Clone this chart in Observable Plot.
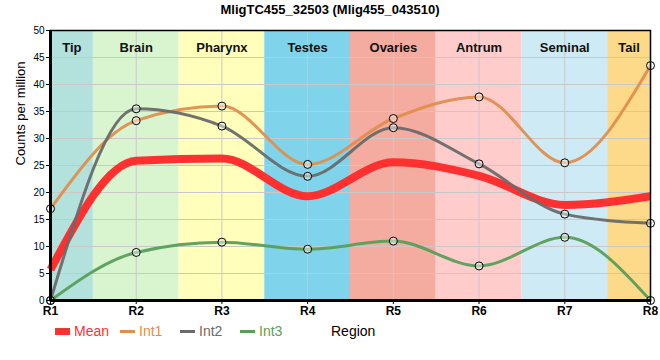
<!DOCTYPE html>
<html><head><meta charset="utf-8">
<script src="https://cdn.jsdelivr.net/npm/d3@7"></script>
<script src="https://cdn.jsdelivr.net/npm/@observablehq/plot@0.6"></script>
<style>
body{margin:0;background:#fff;font-family:"Liberation Sans",Arial,sans-serif;}
#wrap{width:660px;}
#title{height:20px;text-align:center;font-weight:bold;font-size:13px;line-height:19px;color:#000;}
#legend{position:relative;height:22px;font-size:14px;}
#legend .item{position:absolute;top:3px;display:flex;align-items:center;}
#legend .sw{display:inline-block;width:15px;margin-right:4px;}
</style></head><body>
<div id="wrap"><div id="title">MligTC455_32503 (Mlig455_043510)</div><div id="chart"></div><div id="legend"></div></div>
<script>
const regions = ["R1","R2","R3","R4","R5","R6","R7","R8"];
const regionPos = [1,2,3,4,5,6,7,8];
const meanVals = [5.7, 25.9, 26.3, 19.3, 25.6, 23.1, 17.7, 19.3];
const int1Vals = [17.0, 33.3, 36.0, 25.2, 33.7, 37.7, 25.5, 43.5];
const int2Vals = [0.0, 35.5, 32.3, 23.0, 32.0, 25.3, 16.0, 14.3];
const int3Vals = [0.0, 8.9, 10.8, 9.5, 11.0, 6.4, 11.7, 0.0];
const seriesNames = ["Mean","Int1","Int2","Int3"];
const seriesColors = ["#ff3030","#e08e4e","#6a6a6a","#5a9e5a"];
const bandNames = ["Tip","Brain","Pharynx","Testes","Ovaries","Antrum","Seminal","Tail"];
const bandStart = [1,1.5,2.5,3.5,4.5,5.5,6.5,7.5];
const bandEnd = [1.5,2.5,3.5,4.5,5.5,6.5,7.5,8];
const bandColors = ["#b3e2dd","#d9f5d0","#ffffbb","#7fd4ec","#f5aca0","#ffcccc","#ceeaf5","#fdd98a"];
const yTicks = [0,5,10,15,20,25,30,35,40,45,50];

const bands = bandNames.map((n,i)=>({name:n, x1:bandStart[i], x2:bandEnd[i], color:bandColors[i]}));
const allVals = [meanVals,int1Vals,int2Vals,int3Vals];
const rows = [];
seriesNames.forEach((s,si)=>allVals[si].forEach((v,i)=>rows.push({series:s, x:regionPos[i], y:v})));
const intRows = rows.filter(d=>d.series!=="Mean");
const color = s=>seriesColors[seriesNames.indexOf(s)];

const plot = Plot.plot({
  width:660, height:300,
  marginLeft:50, marginRight:10, marginTop:10, marginBottom:20,
  style:{fontFamily:'"Liberation Sans",Arial,sans-serif', background:"transparent"},
  x:{domain:[1,8], label:null},
  y:{domain:[0,50], label:null},
  marks:[
    Plot.rectY(bands,{x1:"x1",x2:"x2",y1:0,y2:50,fill:"color"}),
    Plot.gridX(regionPos,{stroke:"#c8c8c8",strokeOpacity:1,strokeWidth:1}),
    Plot.gridY(yTicks,{stroke:"#c8c8c8",strokeOpacity:1,strokeWidth:1}),
    Plot.text(bands,{x:d=>(d.x1+d.x2)/2, frameAnchor:"top", dy:12, text:"name", fontWeight:"bold", fontSize:13, fill:"#111"}),
    Plot.line(rows.filter(d=>d.series==="Mean"),{x:"x",y:"y",stroke:seriesColors[0],strokeWidth:8,curve:"monotone-x",strokeLinecap:"butt"}),
    ...seriesNames.slice(1).map((s,i)=>Plot.line(rows.filter(d=>d.series===s),{x:"x",y:"y",stroke:seriesColors[i+1],strokeWidth:3,curve:"monotone-x",strokeOpacity:0.95})),
    Plot.dot(intRows,{x:"x",y:"y",r:4,stroke:"#000",strokeWidth:1,fill:"#fff",fillOpacity:0.45}),
    Plot.frame({stroke:"#000",strokeWidth:1.5}),
    Plot.ruleX([1],{stroke:"#000",strokeWidth:3}),
    Plot.ruleY([0],{stroke:"#000",strokeWidth:3}),
    Plot.axisY({ticks:yTicks, tickSize:4, tickPadding:2, fontSize:10, label:null, stroke:"#000"}),
    Plot.axisX({ticks:regionPos, tickFormat:d=>regions[d-1], tickSize:4, tickPadding:2, fontSize:12, fontWeight:"bold", label:null}),
    Plot.text(["Counts per million"],{frameAnchor:"left", rotate:-90, dx:-30, fontSize:13, fill:"#000"})
  ]
});
document.getElementById("chart").appendChild(plot);

const legend = document.getElementById("legend");
const lx = [55,120,180,240];
seriesNames.forEach((s,i)=>{
  const it = document.createElement("div");
  it.className="item"; it.style.left = lx[i]+"px";
  const sw = document.createElement("span"); sw.className="sw";
  sw.style.height = (i===0?7:3)+"px"; sw.style.background = seriesColors[i];
  const tx = document.createElement("span"); tx.textContent = s; tx.style.color = seriesColors[i];
  it.appendChild(sw); it.appendChild(tx); legend.appendChild(it);
});
const reg = document.createElement("div"); reg.className="item"; reg.style.left="331px"; reg.textContent="Region"; reg.style.color="#000";
legend.appendChild(reg);
</script>
</body></html>
